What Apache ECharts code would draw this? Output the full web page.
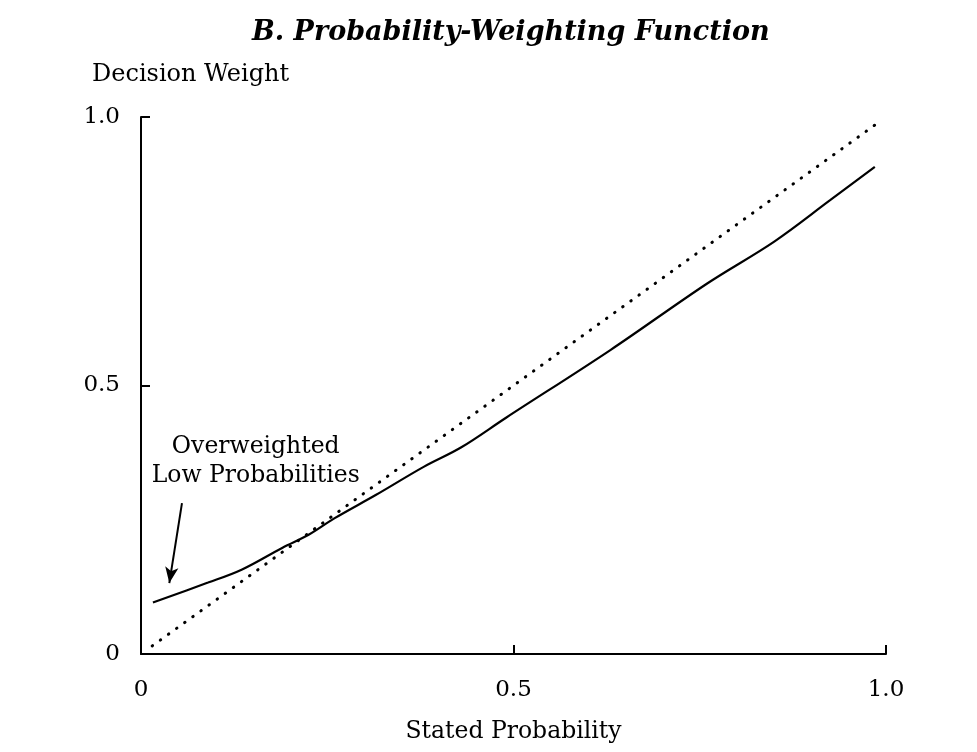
<!DOCTYPE html>
<html>
<head>
<meta charset="utf-8">
<script src="https://cdn.jsdelivr.net/npm/echarts@6/dist/echarts.min.js"></script>
<style>
  html, body { margin: 0; padding: 0; background: #fff; }
  #main { width: 977px; height: 752px; }
</style>
</head>
<body>
<div id="main"></div>
<script>
// values
let weightX = [0.016, 0.09, 0.135, 0.19, 0.225, 0.26, 0.315, 0.38, 0.43, 0.49, 0.63, 0.76, 0.85, 0.925, 0.985]
let weightY = [0.096, 0.133, 0.157, 0.198, 0.222, 0.253, 0.296, 0.349, 0.385, 0.44, 0.566, 0.69, 0.768, 0.845, 0.907]
let diagonalX = [0.015, 0.995]
let diagonalY = [0.015, 0.995]
let tickLabels = {0: '0', 0.5: '0.5', 1: '1.0'}
let arrowFrom = [0.055, 0.281]
let arrowTo = [0.038, 0.132]
let notePos = [0.154, 0.358]
let noteText = 'Overweighted\nLow Probabilities'

let serif = '"DejaVu Serif", "Liberation Serif", serif'

function pairs(xs, ys) {
  return xs.map(function (x, i) {
    return [x, ys[i]]
  })
}

function $extend(a, b) {
  return Object.assign({}, a, b)
}

let myChart = echarts.init(document.getElementById('main'))

let axisCommon = {
  type: 'value',
  min: 0,
  max: 1,
  interval: 0.5,
  splitLine: {show: false},
  axisLine: {show: true, lineStyle: {color: '#000', width: 2}},
  axisTick: {show: true, inside: true, length: 9, lineStyle: {color: '#000', width: 2}},
  axisLabel: {
    color: '#000',
    fontFamily: serif,
    fontSize: 23,
    formatter: function (v) {
      return tickLabels[v] !== undefined ? tickLabels[v] : ''
    }
  }
}

let option = {
  backgroundColor: '#fff',
  animation: false,
  title: [{
    text: 'B. Probability-Weighting Function',
    left: 247,
    top: 14,
    textStyle: {fontFamily: serif, fontSize: 27, fontWeight: 'bold', fontStyle: 'italic', color: '#000'}
  }, {
    text: 'Decision Weight',
    left: 87,
    top: 58,
    textStyle: {fontFamily: serif, fontSize: 24, fontWeight: 'normal', color: '#000'}
  }],
  grid: {left: 141, right: 91, top: 117, bottom: 98, outerBoundsMode: 'none', containLabel: false},
  xAxis: $extend(axisCommon, {
    name: 'Stated Probability',
    nameLocation: 'middle',
    nameGap: 66,
    nameTextStyle: {fontFamily: serif, fontSize: 23.5, color: '#000'},
    axisLabel: $extend(axisCommon.axisLabel, {margin: 25})
  }),
  yAxis: $extend(axisCommon, {
    axisLabel: $extend(axisCommon.axisLabel, {margin: 21})
  }),
  series: [{
    name: 'diagonal',
    type: 'line',
    data: pairs(diagonalX, diagonalY),
    showSymbol: false,
    lineStyle: {color: '#000', width: 3, type: [0.5, 9.5], cap: 'round'}
  }, {
    name: 'weight',
    type: 'line',
    data: pairs(weightX, weightY),
    smooth: 0.35,
    showSymbol: false,
    lineStyle: {color: '#000', width: 2.2},
    markLine: {
      silent: true,
      symbol: ['none', 'arrow'],
      symbolSize: [10, 16],
      label: {show: false},
      lineStyle: {color: '#000', width: 2, type: 'solid'},
      data: [[{coord: arrowFrom}, {coord: arrowTo}]]
    },
    markPoint: {
      silent: true,
      symbol: 'circle',
      symbolSize: 0,
      data: [{coord: notePos}],
      label: {
        show: true,
        position: 'inside',
        formatter: noteText,
        fontFamily: serif,
        fontSize: 23.5,
        lineHeight: 29,
        align: 'center',
        color: '#000'
      }
    }
  }]
}

myChart.setOption(option)
</script>
</body>
</html>
